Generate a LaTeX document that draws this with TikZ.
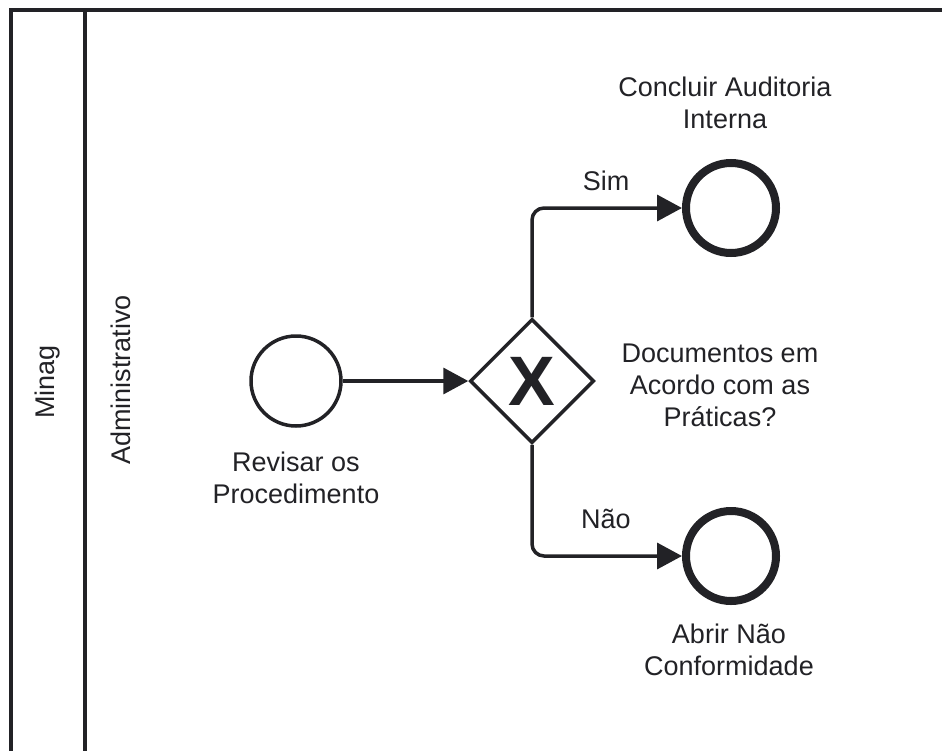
\documentclass[tikz,border=0pt]{standalone}
\usepackage{fontspec}
\setmainfont{Liberation Sans}
\usetikzlibrary{shapes.geometric,arrows.meta}
\definecolor{ink}{HTML}{222226}
\begin{document}
\begin{tikzpicture}[x=1pt,y=-1pt,
  every node/.style={font=\fontsize{27}{32}\selectfont, text=ink},
  lbl/.style={align=center, inner sep=0pt},
  startev/.style={circle, draw=ink, line width=3.5pt, minimum size=90pt, inner sep=0pt},
  endev/.style={circle, draw=ink, line width=8pt, minimum size=90pt, inner sep=0pt},
  gateway/.style={diamond, draw=ink, line width=3.5pt, minimum width=124pt,
    minimum height=124pt, inner sep=0pt, font=\fontsize{70}{70}\selectfont\bfseries},
  flow/.style={draw=ink, line width=3.5pt, rounded corners=12pt,
    -{Triangle[length=25pt,width=26pt]}},
  lane/.style={draw=ink, line width=3.5pt}]
\useasboundingbox (0,0) rectangle (942,750);
\fill[white] (0,0) rectangle (942,750);

% pool and lane borders
\draw[lane] (11,760) -- (11,10) -- (950,10);
\draw[lane] (85,10) -- (85,760);
\node[lbl, rotate=90] (pool) at (48,382) {Minag};
\node[lbl, rotate=90] (lanename) at (121,380) {Administrativo};

% events and gateway
\node[startev] (start) at (296,381) {};
\node[gateway] (gw) at (532,381) {X};
\node[endev] (endA) at (731,208) {};
\node[endev] (endB) at (731,556) {};

% labels
\node[lbl] (startlbl) at (296,478) {Revisar os\\Procedimento};
\node[lbl] (endAlbl) at (725,103) {Concluir Auditoria\\Interna};
\node[lbl] (gwlbl) at (720,385) {Documentos em\\Acordo com as\\Práticas?};
\node[lbl] (endBlbl) at (729,650) {Abrir Não\\Conformidade};
\node[lbl] (yes) at (606,181) {Sim};
\node[lbl] (no) at (606,519) {Não};

% sequence flows
\draw[flow] (start) -- (gw.west);
\draw[flow] (gw.north) |- (endA.west);
\draw[flow] (gw.south) |- (endB.west);
\end{tikzpicture}
\end{document}
